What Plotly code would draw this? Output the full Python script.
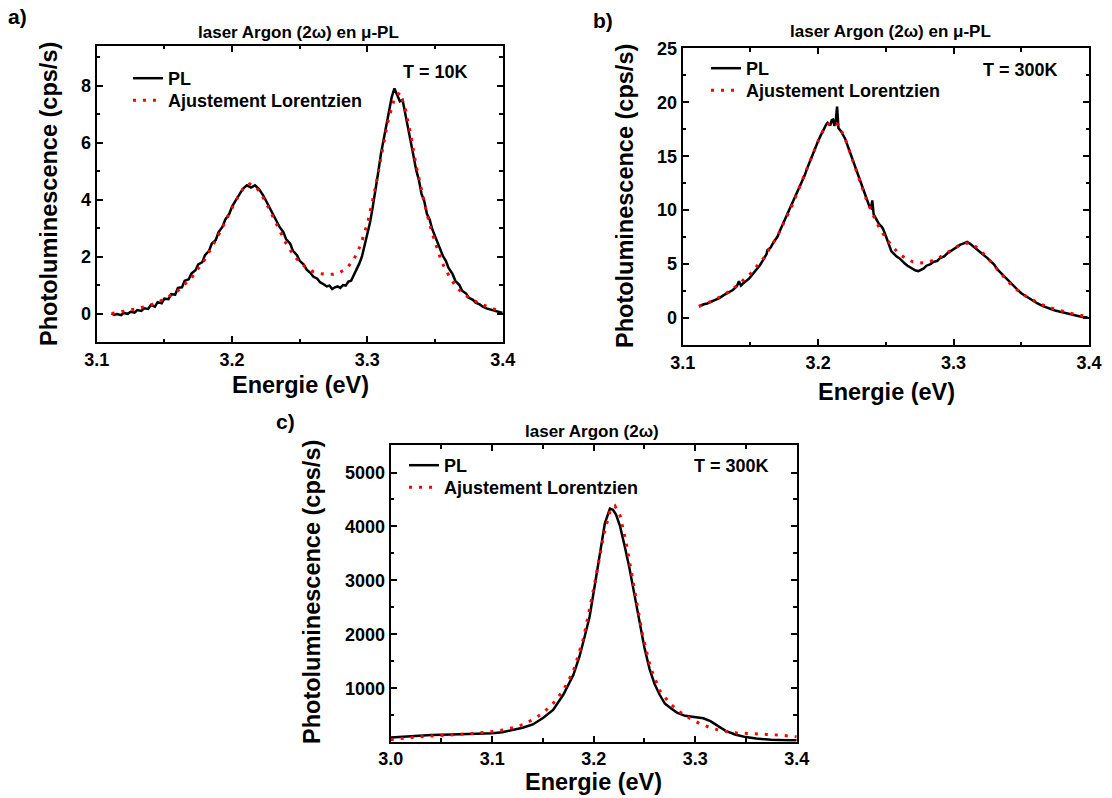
import plotly.graph_objects as go

W, H = 1112, 798

# ---------------- data ----------------
# Panel a) T = 10K
a_pl_x = [3.111, 3.113, 3.115, 3.118, 3.120, 3.123, 3.125, 3.128, 3.130, 3.133, 3.135, 3.138,
          3.140, 3.143, 3.145, 3.148, 3.150, 3.153, 3.155, 3.158, 3.160, 3.163, 3.165, 3.168,
          3.170, 3.173, 3.175, 3.178, 3.180, 3.183, 3.185, 3.188, 3.190, 3.193, 3.195, 3.198,
          3.200, 3.203, 3.205, 3.208, 3.211, 3.214, 3.217, 3.220, 3.223, 3.226, 3.228, 3.230,
          3.233, 3.235, 3.238, 3.240, 3.243, 3.245, 3.248, 3.250, 3.253, 3.255, 3.258, 3.260,
          3.263, 3.265, 3.268, 3.270, 3.272, 3.274, 3.276, 3.278, 3.280, 3.282, 3.284, 3.286,
          3.288, 3.290, 3.292, 3.294, 3.296, 3.298, 3.300, 3.302, 3.304, 3.306, 3.308, 3.310,
          3.312, 3.314, 3.316, 3.318, 3.320, 3.322, 3.324, 3.326, 3.328, 3.330, 3.333, 3.336,
          3.338, 3.340, 3.342, 3.344, 3.346, 3.348, 3.350, 3.352, 3.354, 3.356, 3.358, 3.360,
          3.363, 3.365, 3.368, 3.370, 3.373, 3.375, 3.378, 3.380, 3.383, 3.385, 3.388, 3.390,
          3.393, 3.395, 3.398, 3.400]
a_pl_y = [0.00, -0.05, -0.02, -0.06, 0.02, -0.01, 0.06, 0.03, 0.12, 0.09, 0.18, 0.16,
          0.30, 0.24, 0.40, 0.36, 0.52, 0.50, 0.68, 0.66, 0.90, 0.92, 1.15, 1.20,
          1.40, 1.52, 1.72, 1.80, 2.05, 2.20, 2.45, 2.58, 2.85, 3.05, 3.30, 3.50,
          3.75, 3.98, 4.15, 4.38, 4.50, 4.42, 4.50, 4.36, 4.15, 3.88, 3.70, 3.50,
          3.28, 3.05, 2.85, 2.60, 2.45, 2.20, 2.05, 1.85, 1.72, 1.55, 1.42, 1.30,
          1.22, 1.10, 1.02, 0.95, 0.98, 0.86, 0.92, 0.95, 0.90, 1.00, 0.98, 1.12,
          1.15, 1.35, 1.50, 1.75, 2.00, 2.40, 2.75, 3.20, 3.75, 4.30, 4.95, 5.60,
          6.10, 6.60, 7.10, 7.60, 7.90, 7.70, 7.45, 7.50, 7.05, 6.50, 5.80, 5.05,
          4.70, 4.20, 3.95, 3.50, 3.30, 2.95, 2.70, 2.45, 2.25, 2.00, 1.85, 1.60,
          1.38, 1.15, 1.00, 0.80, 0.70, 0.55, 0.48, 0.38, 0.32, 0.25, 0.18, 0.15,
          0.10, 0.08, 0.04, 0.02]
a_fit_x = [3.111, 3.120, 3.130, 3.140, 3.150, 3.160, 3.170, 3.180, 3.190, 3.200, 3.205, 3.210,
           3.213, 3.217, 3.220, 3.225, 3.230, 3.235, 3.240, 3.245, 3.250, 3.255, 3.260, 3.265,
           3.270, 3.275, 3.280, 3.285, 3.290, 3.295, 3.300, 3.305, 3.310, 3.315, 3.320, 3.324,
           3.328, 3.332, 3.336, 3.340, 3.344, 3.348, 3.351, 3.355, 3.360, 3.366, 3.375, 3.384,
           3.392, 3.399]
a_fit_y = [0.00, 0.07, 0.17, 0.30, 0.50, 0.80, 1.25, 1.90, 2.75, 3.70, 4.15, 4.50,
           4.55, 4.45, 4.30, 3.90, 3.40, 2.90, 2.45, 2.08, 1.80, 1.60, 1.47, 1.40,
           1.37, 1.38, 1.45, 1.60, 1.90, 2.40, 3.15, 4.20, 5.50, 6.70, 7.55, 7.75,
           7.20, 6.30, 5.20, 4.30, 3.50, 2.80, 2.35, 1.80, 1.35, 0.90, 0.55, 0.33,
           0.18, 0.08]

# Panel b) T = 300K
b_pl_x = [3.112, 3.115, 3.118, 3.121, 3.123, 3.127, 3.130, 3.134, 3.137, 3.140, 3.1415, 3.143,
          3.145, 3.149, 3.152, 3.155, 3.157, 3.160, 3.162, 3.1625, 3.165, 3.167, 3.170, 3.172,
          3.174, 3.176, 3.178, 3.180, 3.182, 3.184, 3.186, 3.188, 3.190, 3.192, 3.194, 3.196,
          3.198, 3.200, 3.202, 3.204, 3.206, 3.207, 3.209, 3.210, 3.211, 3.212, 3.213, 3.214,
          3.215, 3.217, 3.220, 3.222, 3.224, 3.226, 3.228, 3.230, 3.232, 3.234, 3.236, 3.238,
          3.239, 3.240, 3.241, 3.243, 3.245, 3.247, 3.248, 3.250, 3.252, 3.254, 3.256, 3.258,
          3.260, 3.262, 3.264, 3.266, 3.268, 3.270, 3.272, 3.274, 3.276, 3.278, 3.280, 3.283,
          3.285, 3.288, 3.290, 3.293, 3.295, 3.298, 3.300, 3.303, 3.305, 3.308, 3.310, 3.312,
          3.314, 3.317, 3.320, 3.322, 3.325, 3.327, 3.330, 3.332, 3.335, 3.338, 3.341, 3.344,
          3.347, 3.350, 3.353, 3.356, 3.359, 3.362, 3.366, 3.369, 3.372, 3.375, 3.378, 3.381,
          3.385, 3.388, 3.392, 3.395, 3.399]
b_pl_y = [1.05, 1.25, 1.35, 1.50, 1.65, 1.85, 2.10, 2.35, 2.60, 2.95, 3.40, 3.00,
          3.25, 3.65, 4.10, 4.55, 4.90, 5.50, 5.95, 6.30, 6.55, 7.00, 7.55, 8.15,
          8.70, 9.20, 9.85, 10.40, 10.95, 11.50, 12.00, 12.60, 13.20, 13.90, 14.55, 15.20,
          15.85, 16.40, 16.95, 17.50, 17.95, 18.10, 17.85, 18.35, 18.40, 17.80, 18.30, 19.60,
          17.60, 17.30, 16.60, 15.90, 15.20, 14.50, 13.80, 13.00, 12.30, 11.60, 10.95, 10.30,
          10.20, 10.90, 9.60, 9.10, 8.70, 8.45, 8.25, 7.60, 6.80, 6.20, 5.95, 5.70,
          5.55, 5.25, 5.05, 4.85, 4.70, 4.55, 4.40, 4.35, 4.50, 4.60, 4.85, 5.00,
          5.20, 5.30, 5.55, 5.70, 5.95, 6.20, 6.45, 6.65, 6.80, 6.95, 7.05, 6.90,
          6.70, 6.40, 6.05, 5.90, 5.55, 5.30, 4.95, 4.55, 4.15, 3.75, 3.40, 2.95,
          2.65, 2.30, 2.05, 1.80, 1.55, 1.35, 1.10, 0.95, 0.82, 0.70, 0.60, 0.50,
          0.38, 0.30, 0.18, 0.10, 0.05]
b_fit_x = [3.112, 3.120, 3.130, 3.140, 3.150, 3.160, 3.170, 3.180, 3.190, 3.200, 3.205, 3.210,
           3.215, 3.220, 3.225, 3.230, 3.235, 3.240, 3.245, 3.250, 3.255, 3.260, 3.265, 3.270,
           3.275, 3.280, 3.285, 3.290, 3.295, 3.300, 3.305, 3.310, 3.315, 3.320, 3.325, 3.330,
           3.335, 3.340, 3.345, 3.350, 3.355, 3.360, 3.365, 3.370, 3.375, 3.380, 3.385, 3.390,
           3.395, 3.399]
b_fit_y = [1.10, 1.50, 2.10, 3.00, 4.10, 5.60, 7.60, 10.20, 13.30, 16.40, 17.70, 18.20,
           17.90, 16.60, 14.80, 13.00, 11.20, 9.70, 8.40, 7.40, 6.60, 5.95, 5.50, 5.20,
           5.10, 5.15, 5.35, 5.65, 6.05, 6.45, 6.80, 6.95, 6.75, 6.25, 5.60, 4.85,
           4.10, 3.40, 2.80, 2.30, 1.90, 1.55, 1.25, 1.00, 0.80, 0.62, 0.47, 0.35,
           0.22, 0.12]

# Panel c) macro-PL, T = 300K
c_pl_x = [3.000, 3.020, 3.040, 3.060, 3.080, 3.100, 3.110, 3.120, 3.130, 3.140, 3.150, 3.160,
          3.170, 3.180, 3.186, 3.191, 3.196, 3.201, 3.206, 3.211, 3.216, 3.219, 3.222, 3.226,
          3.230, 3.235, 3.240, 3.245, 3.250, 3.255, 3.260, 3.265, 3.270, 3.276, 3.282, 3.290,
          3.300, 3.308, 3.315, 3.322, 3.330, 3.340, 3.350, 3.360, 3.375, 3.390, 3.400]
c_pl_y = [90, 115, 134, 142, 150, 165, 185, 230, 270, 330, 450, 600,
          880, 1250, 1590, 1950, 2330, 2900, 3500, 4060, 4330, 4310, 4220, 4000,
          3680, 3250, 2750, 2210, 1750, 1360, 1080, 880, 720, 630, 550, 490,
          470, 445, 390, 300, 210, 140, 95, 70, 45, 38, 38]
c_fit_x = [3.000, 3.020, 3.040, 3.060, 3.080, 3.100, 3.110, 3.120, 3.130, 3.140, 3.150, 3.160,
           3.170, 3.180, 3.190, 3.200, 3.210, 3.216, 3.221, 3.226, 3.232, 3.240, 3.248, 3.256,
           3.265, 3.275, 3.285, 3.295, 3.305, 3.315, 3.325, 3.340, 3.355, 3.370, 3.385, 3.400]
c_fit_y = [50, 90, 115, 134, 160, 200, 225, 270, 325, 420, 540, 720,
           960, 1320, 1930, 2850, 3850, 4280, 4380, 4200, 3700, 2850, 2000, 1380,
           960, 720, 560, 440, 340, 270, 215, 175, 155, 145, 130, 100]

series_names = ["PL", "Ajustement Lorentzien"]
panel_titles = ["laser Argon (2\u03c9) en \u03bc-PL", "laser Argon (2\u03c9) en \u03bc-PL", "laser Argon (2\u03c9)"]
panel_labels = ["a)", "b)", "c)"]
temperatures = ["T = 10K", "T = 300K", "T = 300K"]
y_title = "Photoluminescence (cps/s)"
x_title = "Energie (eV)"

# ---------------- figure ----------------
FONT = "Liberation Sans, Arial, sans-serif"
fig = go.Figure()

panels = [
    (a_pl_x, a_pl_y, a_fit_x, a_fit_y, "x", "y", "legend", "legend2"),
    (b_pl_x, b_pl_y, b_fit_x, b_fit_y, "x2", "y2", "legend3", "legend4"),
    (c_pl_x, c_pl_y, c_fit_x, c_fit_y, "x3", "y3", "legend5", "legend6"),
]
for px_, py_, fx_, fy_, xa, ya, lg1, lg2 in panels:
    fig.add_trace(go.Scatter(x=px_, y=py_, mode="lines", name=series_names[0],
                             line=dict(color="black", width=2.5), xaxis=xa, yaxis=ya,
                             legend=lg1))
    fig.add_trace(go.Scatter(x=fx_, y=fy_, mode="lines", name=series_names[1],
                             line=dict(color="#ff0000", width=3, dash="3px,7px"),
                             xaxis=xa, yaxis=ya, legend=lg2))


def px2x(p):
    return p / W


def px2y(p):
    return 1 - p / H


frames = {
    "a": (96.7, 502.7, 45.7, 342.0),
    "b": (682.7, 1089.0, 48.3, 345.0),
    "c": (390.7, 796.7, 445.0, 741.7),
}
TICKFONT = dict(family=FONT, size=18, color="black", weight="bold")


def axis_common(minor):
    return dict(showline=True, linewidth=2, linecolor="black",
                mirror="allticks", ticks="inside", ticklen=6, tickwidth=1.5,
                tickcolor="black", automargin=False,
                minor=dict(ticks="inside", ticklen=3.5, tickwidth=1.5, dtick=minor,
                           tickcolor="black", showgrid=False),
                showgrid=False, zeroline=False, tickfont=TICKFONT)


def xax(frame, rng, anchor):
    l, r, t, b = frame
    d = axis_common(0.05)
    d.update(domain=[px2x(l), px2x(r)], range=rng, dtick=0.1, tick0=3.0,
             tickformat=".1f", anchor=anchor)
    return d


def yax(frame, rng, dtick, minor, anchor):
    l, r, t, b = frame
    d = axis_common(minor)
    d.update(domain=[px2y(b), px2y(t)], range=rng, dtick=dtick, tick0=0, anchor=anchor)
    return d


def leg(xp, yp):
    return dict(x=px2x(xp), y=px2y(yp),
                font=dict(family=FONT, size=18, color="black", weight="bold"),
                bgcolor="rgba(0,0,0,0)", borderwidth=0, tracegroupgap=0,
                xanchor="left", yanchor="top", itemwidth=30)


fig.update_layout(
    template="none",
    width=W, height=H, autosize=False,
    margin=dict(l=0, r=0, t=0, b=0, pad=0),
    paper_bgcolor="white", plot_bgcolor="white",
    showlegend=True,
    xaxis=xax(frames["a"], [3.1, 3.4], "y"),
    yaxis=yax(frames["a"], [-1.0, 9.4], 2, 1, "x"),
    xaxis2=xax(frames["b"], [3.1, 3.4], "y2"),
    yaxis2=yax(frames["b"], [-2.5, 25], 5, 2.5, "x2"),
    xaxis3=xax(frames["c"], [3.0, 3.4], "y3"),
    yaxis3=yax(frames["c"], [10, 5510], 1000, 500, "x3"),
    legend=leg(128, 60), legend2=leg(128, 82),
    legend3=leg(706, 50), legend4=leg(706, 72),
    legend5=leg(404, 447), legend6=leg(404, 469),
)

ann = []


def add_text(text, xp, yp, size, angle=0):
    ann.append(dict(text=text, x=px2x(xp), y=px2y(yp), xref="paper", yref="paper",
                    showarrow=False, xanchor="center", yanchor="middle", textangle=angle,
                    font=dict(family=FONT, size=size, color="black", weight="bold")))


add_text(panel_labels[0], 17, 17, 21)
add_text(panel_labels[1], 603, 20, 21)
add_text(panel_labels[2], 285, 421, 21)
add_text(panel_titles[0], 298, 33, 17)
add_text(panel_titles[1], 890, 31, 17)
add_text(panel_titles[2], 592, 431, 17)
add_text(temperatures[0], 435, 72, 18)
add_text(temperatures[1], 1020, 70, 18)
add_text(temperatures[2], 731, 466, 18)
add_text(y_title, 49, 194, 23.5, -90)
add_text(y_title, 625, 196, 23.5, -90)
add_text(y_title, 312, 592, 23.5, -90)
add_text(x_title, 300, 385, 23.5)
add_text(x_title, 886, 392, 23.5)
add_text(x_title, 593, 782, 23.5)

fig.update_layout(annotations=ann)

fig.write_html("out.html", config={"displayModeBar": False},
               post_script="document.body.style.margin='0';document.body.style.overflow='hidden';")
